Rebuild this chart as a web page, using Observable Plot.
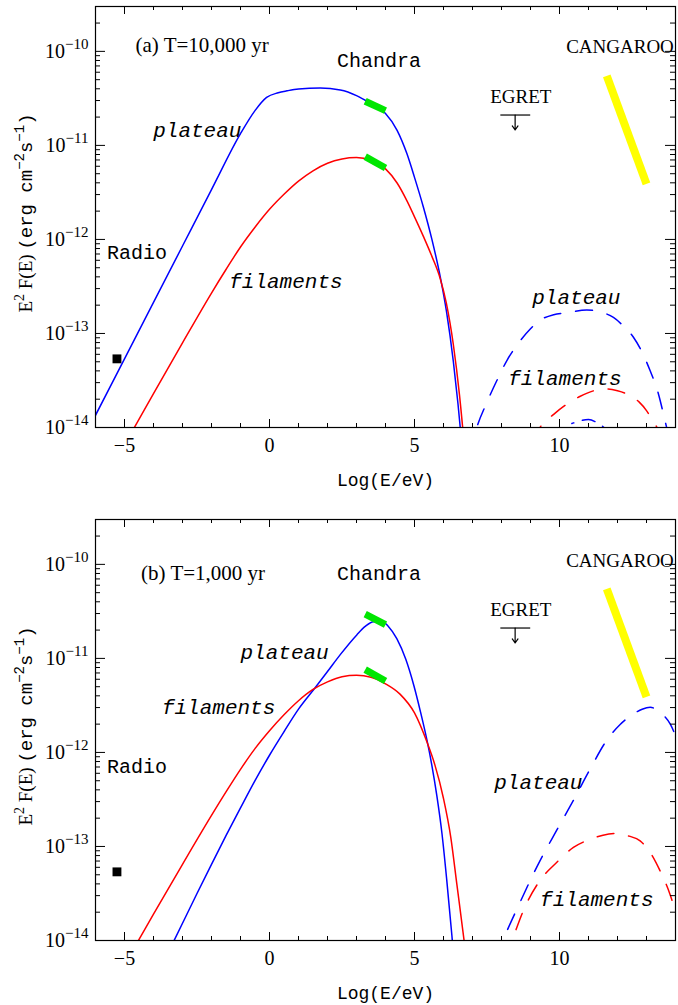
<!DOCTYPE html>
<html><head><meta charset="utf-8">
<script src="https://cdn.jsdelivr.net/npm/d3@7"></script>
<script src="https://cdn.jsdelivr.net/npm/@observablehq/plot@0.6"></script>
<style>body{margin:0;background:#fff;} #chart{width:678px;} svg{display:block;}</style>
</head><body><div id="chart"></div>
<script>
// ---------- axes / ticks ----------
const xDomain = [-6, 14];
const yDomain = [1e-14, 3e-10];
const xMajor = [-5, 0, 5, 10];
const xMinor = [-4, -3, -2, -1, 1, 2, 3, 4, 6, 7, 8, 9, 11, 12, 13];
const yMajor = [1e-14, 1e-13, 1e-12, 1e-11, 1e-10];
const yMinorMult = [2, 3, 4, 5, 6, 7, 8, 9];
const yMinorDecades = [-14, -13, -12, -11];
const yMinor = yMinorDecades.flatMap(e => yMinorMult.map(m => m * 10 ** e)).concat([2e-10]);

// ---------- panel (a) T=10,000 yr : log10 values ----------
const aSynPlatX = [-6.2, -5, -4, -3, -2, -1, -0.5, -0.1, 0.3, 0.6, 1.0, 1.75, 2.44, 3.0, 3.3, 3.65, 4.0, 4.4, 4.74, 5.0, 5.31, 5.6, 5.89, 6.1, 6.34, 6.5, 6.7];
const aSynPlatY = [-13.99, -13.27, -12.67, -12.07, -11.47, -10.875, -10.63, -10.49, -10.44, -10.42, -10.40, -10.39, -10.41, -10.47, -10.52, -10.58, -10.66, -10.84, -11.09, -11.34, -11.66, -12.00, -12.40, -12.76, -13.30, -13.75, -14.4];
const aSynFilX = [-4.9, -4.66, -4, -3, -2, -1.5, -1, -0.5, 0, 0.5, 1.0, 1.5, 2.0, 2.5, 3.0, 3.5, 4.0, 4.4, 4.74, 5.0, 5.31, 5.6, 5.89, 6.1, 6.34, 6.55, 6.75];
const aSynFilY = [-14.13, -14.0, -13.64, -13.10, -12.57, -12.32, -12.08, -11.87, -11.68, -11.52, -11.38, -11.27, -11.19, -11.145, -11.13, -11.16, -11.25, -11.40, -11.59, -11.76, -11.97, -12.18, -12.42, -12.68, -13.12, -13.65, -14.3];
const aIcPlatX = [6.9, 7.15, 7.5, 7.84, 8.2, 8.64, 9.0, 9.33, 9.8, 10.26, 10.94, 11.4, 11.86, 12.2, 12.55, 12.85, 13.13, 13.4, 13.64, 13.85];
const aIcPlatY = [-14.3, -14.0, -13.73, -13.50, -13.28, -13.08, -12.95, -12.86, -12.80, -12.78, -12.75, -12.77, -12.83, -12.92, -13.04, -13.20, -13.40, -13.63, -13.93, -14.2];
const aIcFilX = [9.1, 9.33, 9.8, 10.26, 10.7, 11.17, 11.63, 12.0, 12.43, 12.75, 13.0, 13.2, 13.36, 13.5];
const aIcFilY = [-14.15, -14.0, -13.86, -13.75, -13.67, -13.61, -13.59, -13.61, -13.66, -13.73, -13.82, -13.92, -14.0, -14.1];
const aDotDashX = [9.9, 10.2, 10.6, 11.0, 11.3, 11.6, 11.8];
const aDotDashY = [-14.12, -14.0, -13.94, -13.915, -13.95, -14.02, -14.1];

// ---------- panel (b) T=1,000 yr ----------
const bSynPlatX = [-3.5, -3.29, -2.5, -2, -1.5, -1, -0.5, 0, 0.5, 1.0, 1.58, 2.0, 2.44, 3.01, 3.3, 3.59, 3.9, 4.1, 4.39, 4.7, 4.97, 5.2, 5.43, 5.6, 5.77, 5.95, 6.11, 6.29, 6.4];
const bSynPlatY = [-14.13, -14.0, -13.50, -13.19, -12.885, -12.59, -12.30, -12.03, -11.78, -11.54, -11.31, -11.14, -10.96, -10.75, -10.66, -10.61, -10.61, -10.66, -10.79, -11.01, -11.28, -11.56, -11.87, -12.14, -12.46, -12.87, -13.35, -13.95, -14.35];
const bSynFilX = [-4.8, -4.52, -4, -3, -2, -1.5, -1, -0.5, 0, 0.5, 1.0, 1.5, 2.0, 2.5, 3.0, 3.5, 4.0, 4.5, 5.0, 5.43, 5.7, 6.0, 6.25, 6.46, 6.71, 6.9];
const bSynFilY = [-14.15, -14.0, -13.72, -13.19, -12.67, -12.42, -12.18, -11.96, -11.77, -11.60, -11.45, -11.33, -11.25, -11.195, -11.18, -11.20, -11.27, -11.38, -11.58, -11.89, -12.13, -12.49, -12.90, -13.40, -14.0, -14.5];
const bIcPlatX = [7.8, 8.05, 8.6, 9.33, 9.9, 10.48, 11.05, 11.63, 12.1, 12.55, 12.85, 13.13, 13.45, 13.82, 14.1];
const bIcPlatY = [-14.2, -14.0, -13.62, -13.15, -12.83, -12.51, -12.18, -11.87, -11.70, -11.59, -11.54, -11.52, -11.57, -11.70, -11.9];
const bIcFilX = [8.1, 8.36, 8.8, 9.33, 9.9, 10.48, 11.0, 11.5, 11.98, 12.4, 12.78, 13.1, 13.47, 13.8, 14.1];
const bIcFilY = [-14.2, -14.0, -13.65, -13.36, -13.17, -13.01, -12.93, -12.88, -12.86, -12.89, -12.94, -13.05, -13.26, -13.5, -13.8];

// ---------- observations ----------
const radioX = -5.26, radioLogY = -13.27;
const chandraX1 = 3.3, chandraX2 = 4.0;
const aChandraY1 = [-10.53, -11.12], aChandraY2 = [-10.63, -11.24];
const bChandraY1 = [-10.53, -11.12], bChandraY2 = [-10.64, -11.24];
const cangarooX = [11.63, 13.0], cangarooLogY = [-10.26, -11.41];
const egretX = [7.96, 8.99], egretArrowX = 8.47, egretLogY = -10.677, egretArrowLogY = -10.836;

// ---------- text labels ----------
const aSerifText = ["(a) T=10,000 yr", "CANGAROO", "EGRET"], aSerifX = [-4.62, 10.23, 7.61], aSerifY = [-9.94, -9.95, -10.48];
const bSerifText = ["(b) T=1,000 yr", "CANGAROO", "EGRET"], bSerifX = [-4.43, 10.23, 7.61], bSerifY = [-10.09, -9.96, -10.48];
const aMonoText = ["Chandra", "Radio"], aMonoX = [2.33, -5.6], aMonoY = [-10.10, -12.14];
const bMonoText = ["Chandra", "Radio"], bMonoX = [2.33, -5.6], bMonoY = [-10.10, -12.15];
const aItalText = ["plateau", "filaments", "plateau", "filaments"], aItalX = [-4.01, -1.39, 9.06, 8.23], aItalY = [-10.84, -12.45, -12.61, -13.48];
const bItalText = ["plateau", "filaments", "plateau", "filaments"], bItalX = [-1.0, -3.71, 7.75, 9.33], bItalY = [-10.93, -11.52, -12.32, -13.56];
const xLabel = "Log(E/eV)";
const yLabel = "E2 F(E) (erg cm-2s-1)";

const PH = 421, PW = 580;
const SERIF = "'Liberation Serif', 'Times New Roman', serif";
const MONO = "'Liberation Mono', 'Courier New', monospace";

const ser = (xs, ls) => xs.map((x, i) => ({x, y: 10 ** ls[i]}));
const lab = (t, xs, ls) => t.map((s, i) => ({t: s, x: xs[i], y: 10 ** ls[i]}));

function panel(p) {
  const solid = {strokeWidth: 1.5, curve: "monotone-x", clip: true};
  const dash = {...solid, strokeDasharray: "17,15"};
  const marks = [
    Plot.line(ser(p.sp[0], p.sp[1]), {x: "x", y: "y", stroke: "#0000ff", ...solid}),
    Plot.line(ser(p.sf[0], p.sf[1]), {x: "x", y: "y", stroke: "#ff0000", ...solid}),
    Plot.line(ser(p.ip[0], p.ip[1]), {x: "x", y: "y", stroke: "#0000ff", ...dash}),
    Plot.line(ser(p.if[0], p.if[1]), {x: "x", y: "y", stroke: "#ff0000", ...dash}),
  ];
  if (p.dd) marks.push(Plot.line(ser(p.dd[0], p.dd[1]), {x: "x", y: "y", stroke: "#0000ff", ...solid, strokeDasharray: "13,9,2,9"}));
  const chandra = p.c1.map((v, i) => ({x1: chandraX1, x2: chandraX2, y1: 10 ** v, y2: 10 ** p.c2[i]}));
  marks.push(
    Plot.link(chandra, {x1: "x1", y1: "y1", x2: "x2", y2: "y2", stroke: "#00e600", strokeWidth: 7}),
    Plot.link([{x1: cangarooX[0], x2: cangarooX[1], y1: 10 ** cangarooLogY[0], y2: 10 ** cangarooLogY[1]}], {x1: "x1", y1: "y1", x2: "x2", y2: "y2", stroke: "#ffff00", strokeWidth: 8}),
    Plot.link([{x1: egretX[0], x2: egretX[1], y: 10 ** egretLogY}], {x1: "x1", x2: "x2", y1: "y", y2: "y", stroke: "black", strokeWidth: 1.2}),
    Plot.arrow([{x: egretArrowX, y1: 10 ** egretLogY, y2: 10 ** egretArrowLogY}], {x1: "x", x2: "x", y1: "y1", y2: "y2", stroke: "black", strokeWidth: 1.2, headLength: 7, headAngle: 70}),
    Plot.dot([{x: radioX, y: 10 ** radioLogY}], {x: "x", y: "y", symbol: "square", r: 5, fill: "black"}),
    Plot.text(lab(...p.serif), {x: "x", y: "y", text: "t", textAnchor: "start", fontFamily: SERIF, fontSize: 19}),
    Plot.text(lab(...p.title), {x: "x", y: "y", text: "t", textAnchor: "start", fontFamily: SERIF, fontSize: 21}),
    Plot.text(lab(...p.mono), {x: "x", y: "y", text: "t", textAnchor: "start", fontFamily: MONO, fontSize: 20}),
    Plot.text(lab(...p.ital), {x: "x", y: "y", text: "t", textAnchor: "start", fontFamily: MONO, fontSize: 21, fontStyle: "italic"}),
    // inward ticks on all four sides
    Plot.tickX(xMajor, {x: d => d, insetTop: PH - 8, stroke: "black"}),
    Plot.tickX(xMajor, {x: d => d, insetBottom: PH - 8, stroke: "black"}),
    Plot.tickX(xMinor, {x: d => d, insetTop: PH - 4, stroke: "black"}),
    Plot.tickX(xMinor, {x: d => d, insetBottom: PH - 4, stroke: "black"}),
    Plot.tickY(yMajor, {y: d => d, insetRight: PW - 10, stroke: "black"}),
    Plot.tickY(yMajor, {y: d => d, insetLeft: PW - 10, stroke: "black"}),
    Plot.tickY(yMinor, {y: d => d, insetRight: PW - 5, stroke: "black"}),
    Plot.tickY(yMinor, {y: d => d, insetLeft: PW - 5, stroke: "black"}),
    Plot.frame({stroke: "black", strokeWidth: 1.2}),
    Plot.text([xLabel], {text: d => d, frameAnchor: "bottom", textAnchor: "middle", lineAnchor: "middle", dy: 53, fontFamily: MONO, fontSize: 18}),
    Plot.text([yLabel], {text: d => d, frameAnchor: "left", textAnchor: "middle", lineAnchor: "middle", dx: -70, dy: -4, rotate: -90, fontFamily: MONO, fontSize: 19})
  );
  const svg = Plot.plot({
    width: 678, height: p.height,
    marginLeft: 95, marginRight: 3, marginTop: p.mt, marginBottom: p.mb,
    style: {fontFamily: SERIF, fontSize: "20px", color: "black", background: "white", overflow: "visible"},
    x: {domain: xDomain, ticks: xMajor, tickSize: 0, tickPadding: 10, label: null},
    y: {type: "log", domain: yDomain, ticks: yMajor, tickSize: 0, tickPadding: 7, label: null,
        tickFormat: d => "10|" + Math.round(Math.log10(d))},
    marks
  });
  svg.querySelectorAll("text").forEach(t => {
    const s = t.textContent;
    if (s.startsWith("10|")) {
      const e = s.split("|")[1].replace("-", "\u2212");
      t.innerHTML = `10<tspan dy="-9" font-size="15">${e}</tspan>`;
    } else if (s === yLabel) {
      t.innerHTML = `<tspan font-family="Liberation Serif, serif">E<tspan dy="-8" font-size="14">2</tspan><tspan dy="8"> F(E) </tspan></tspan>` +
        `<tspan>(erg cm<tspan dy="-8" font-size="14">\u22122</tspan><tspan dy="8">s</tspan><tspan dy="-8" font-size="14">\u22121</tspan><tspan dy="8">)</tspan></tspan>`;
    }
  });
  return svg;
}

const chart = document.getElementById("chart");
chart.append(panel({
  height: 500, mt: 6, mb: 73,
  sp: [aSynPlatX, aSynPlatY], sf: [aSynFilX, aSynFilY], ip: [aIcPlatX, aIcPlatY], if: [aIcFilX, aIcFilY], dd: [aDotDashX, aDotDashY],
  c1: aChandraY1, c2: aChandraY2,
  title: [aSerifText.slice(0, 1), aSerifX.slice(0, 1), aSerifY.slice(0, 1)],
  serif: [aSerifText.slice(1), aSerifX.slice(1), aSerifY.slice(1)], mono: [aMonoText, aMonoX, aMonoY], ital: [aItalText, aItalX, aItalY]
}));
chart.append(panel({
  height: 505, mt: 19, mb: 65,
  sp: [bSynPlatX, bSynPlatY], sf: [bSynFilX, bSynFilY], ip: [bIcPlatX, bIcPlatY], if: [bIcFilX, bIcFilY], dd: null,
  c1: bChandraY1, c2: bChandraY2,
  title: [bSerifText.slice(0, 1), bSerifX.slice(0, 1), bSerifY.slice(0, 1)],
  serif: [bSerifText.slice(1), bSerifX.slice(1), bSerifY.slice(1)], mono: [bMonoText, bMonoX, bMonoY], ital: [bItalText, bItalX, bItalY]
}));
</script></body></html>
